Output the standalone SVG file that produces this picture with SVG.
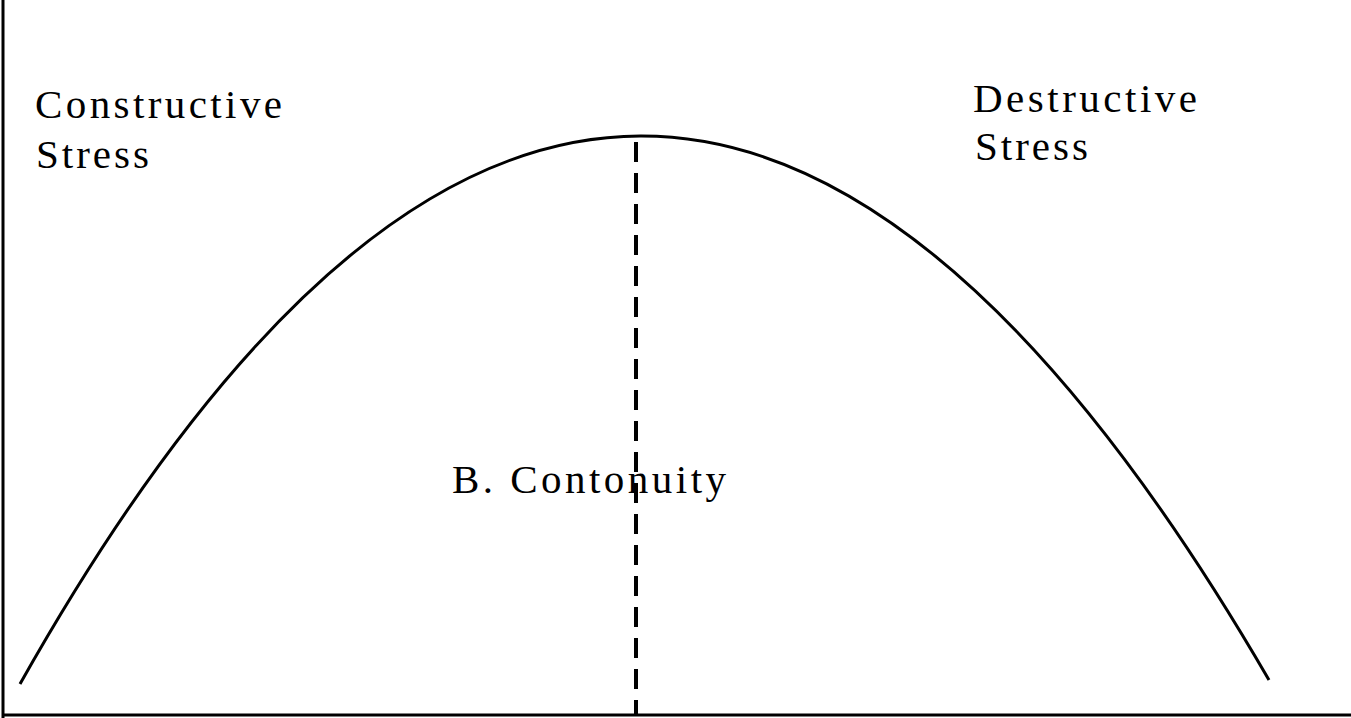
<svg xmlns="http://www.w3.org/2000/svg" width="1351" height="718" viewBox="0 0 1351 718">
<style>
.lbl{font-family:"Liberation Serif","Times New Roman",serif;font-size:41px;fill:#000}
.ax{stroke:#000;stroke-width:3;fill:none}
</style>
<rect width="1351" height="718" fill="#fff"/>
<g id="connectors">
<line class="ax" x1="3" y1="0" x2="3" y2="718"/>
<line class="ax" x1="3" y1="715" x2="1351" y2="715"/>
<path id="curve" d="M20,684 Q636,-410 1269,680" fill="none" stroke="#000" stroke-width="3"/>
<line x1="636" y1="142" x2="636" y2="715" stroke="#000" stroke-width="4" stroke-dasharray="20,11"/>
</g>
<g id="constructive">
<text class="lbl" x="35" y="118" textLength="247" lengthAdjust="spacing">Constructive</text>
<text class="lbl" x="36" y="168" textLength="113" lengthAdjust="spacing">Stress</text>
</g>
<g id="destructive">
<text class="lbl" x="973" y="112" textLength="224" lengthAdjust="spacing">Destructive</text>
<text class="lbl" x="975" y="160" textLength="113" lengthAdjust="spacing">Stress</text>
</g>
<g id="continuity">
<text class="lbl" x="452" y="493" textLength="274" lengthAdjust="spacing">B. Contonuity</text>
</g>
</svg>
